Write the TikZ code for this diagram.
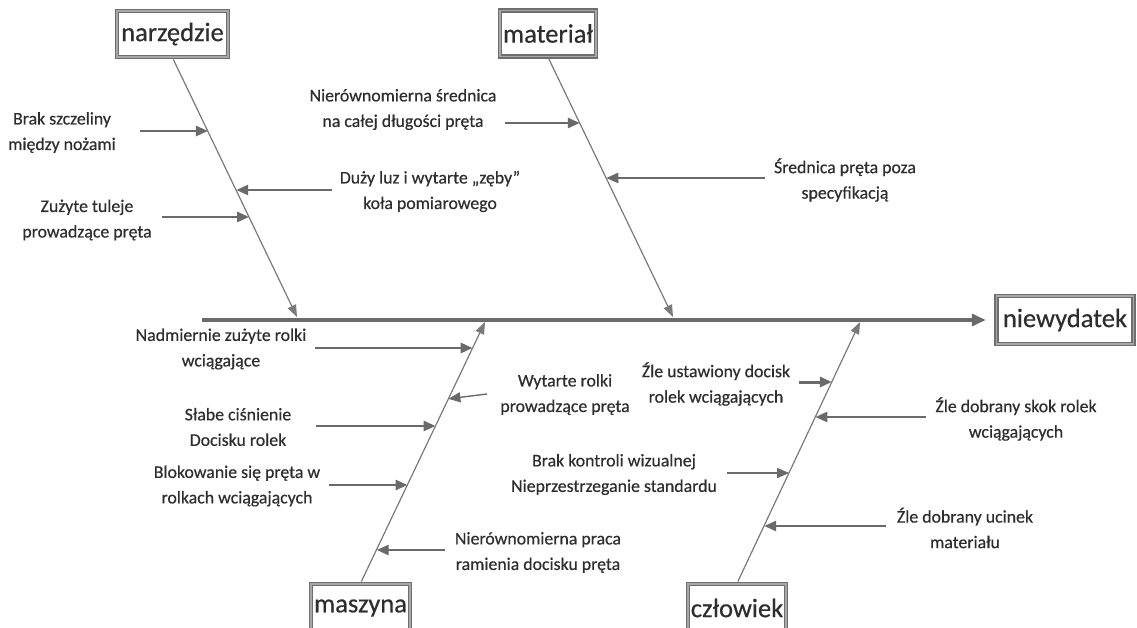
\documentclass[tikz,border=0pt]{standalone}
\usepackage{fontspec}
\setmainfont{Carlito}
\newfontfamily\lblfont{Carlito}[FakeBold=0.5]
\usetikzlibrary{arrows.meta,calc}
\definecolor{ln}{HTML}{7A7A7A}
\definecolor{lnd}{HTML}{6A6A6A}
\definecolor{txt}{HTML}{2E2E2E}
\definecolor{boxd}{HTML}{6E6E6E}
\definecolor{boxl}{HTML}{A8A8A8}
\begin{document}
\begin{tikzpicture}[x=1pt,y=-1pt,
  lbl/.style={font=\lblfont\fontsize{17.8}{25.5}\selectfont, text=txt, align=center, inner sep=0pt},
  catbox/.style={draw=boxd, line width=1.4pt, double=boxl, double distance=1.6pt,
    fill=white, minimum width=#1, minimum height=46pt, inner sep=0pt,
    font=\lblfont\fontsize{26.5}{30}\selectfont, text=txt},
  bonearr/.style={draw=ln, line width=1.2pt, -{Triangle[length=12pt,width=9pt]}},
  carr/.style={draw=lnd, line width=2.6pt, -{Triangle[length=12pt,width=10pt]}},
  tharr/.style={draw=lnd, line width=1.4pt, -{Triangle[length=12pt,width=10pt]}},
  spinearr/.style={draw=lnd, line width=3.5pt, -{Triangle[length=14pt,width=12pt]}}
]
\clip (0,0) rectangle (1137,628);

% category boxes
\node[catbox=111] (narz) at (172.5,34) {narzędzie};
\node[catbox=96]  (mat)  at (548,33.5) {materiał};
\node[catbox=99, minimum height=48pt] (masz) at (360.5,608) {maszyna};
\node[catbox=98, minimum height=48pt] (czl)  at (737,608) {człowiek};
\node[catbox=137, minimum height=48pt] (niew) at (1065,320) {niewydatek};

% spine
\coordinate (sp) at (202,320);
\draw[spinearr, shorten >=10pt] (sp) -- (niew.west);

% bone tips on spine
\coordinate (tN) at (297,317);
\coordinate (tM) at (673,317);
\coordinate (tA) at (485,322);
\coordinate (tC) at (860,322);

\draw[bonearr, shorten <=2pt] (narz.south) -- (tN);
\draw[bonearr, shorten <=2pt] (mat.south) -- (tM);
\draw[bonearr, shorten <=2pt] (masz.north) -- (tA);
\draw[bonearr, shorten <=2pt] (czl.north) -- (tC);

% points on bones
\path (narz.south) -- (tN) coordinate[pos=0.285] (n1) coordinate[pos=0.512] (n2) coordinate[pos=0.615] (n3);
\path (mat.south) -- (tM) coordinate[pos=0.255] (m1) coordinate[pos=0.466] (m2);
\path (masz.north) -- (tA) coordinate[pos=0.901] (a1) coordinate[pos=0.706] (a2)
  coordinate[pos=0.603] (a3) coordinate[pos=0.378] (a4) coordinate[pos=0.130] (a5);
\path (czl.north) -- (tC) coordinate[pos=0.771] (c1) coordinate[pos=0.637] (c2)
  coordinate[pos=0.424] (c3) coordinate[pos=0.221] (c4);

% free ends of cause arrows
\coordinate (sn1) at (140,131);
\coordinate (sn2) at (332,190);
\coordinate (sn3) at (162,217);
\coordinate (sm1) at (505,123);
\coordinate (sm2) at (765,178);
\coordinate (sa1) at (315,348);
\coordinate (sa2) at (487,394);
\coordinate (sa3) at (316,426);
\coordinate (sa4) at (329,485);
\coordinate (sa5) at (445,550);
\coordinate (sc1) at (799,382);
\coordinate (sc2) at (926,417);
\coordinate (sc3) at (727,473);
\coordinate (sc4) at (886,526);

% cause arrows
\draw[carr] (sn1) -- (sn1 -| n1);
\draw[carr] (sn2) -- (sn2 -| n2);
\draw[carr] (sn3) -- (sn3 -| n3);
\draw[carr] (sm1) -- (sm1 -| m1);
\draw[carr] (sm2) -- (sm2 -| m2);
\draw[carr] (sa1) -- (sa1 -| a1);
\draw[tharr] (sa2) -- (a2);
\draw[carr] (sa3) -- (sa3 -| a3);
\draw[carr] (sa4) -- (sa4 -| a4);
\draw[carr] (sa5) -- (sa5 -| a5);
\draw[carr, line width=3pt] (sc1) -- (sc1 -| c1);
\draw[carr] (sc2) -- (sc2 -| c2);
\draw[tharr, line width=1.2pt] (sc3) -- (sc3 -| c3);
\draw[carr] (sc4) -- (sc4 -| c4);

% labels
\node[lbl] (ln1) at (62,132.5) {Brak szczeliny\\między nożami};
\node[lbl] (ln2) at (430,191.5) {Duży luz i wytarte „zęby”\\koła pomiarowego};
\node[lbl] (ln3) at (87,220) {Zużyte tuleje\\prowadzące pręta};
\node[lbl] (lm1) at (403,109.5) {Nierównomierna średnica\\na całej długości pręta};
\node[lbl] (lm2) at (845,180) {Średnica pręta poza\\specyfikacją};
\node[lbl] (la1) at (221,349) {Nadmiernie zużyte rolki\\wciągające};
\node[lbl] (la2) at (565,394.5) {Wytarte rolki\\prowadzące pręta};
\node[lbl] (la3) at (238,427) {Słabe ciśnienie\\Docisku rolek};
\node[lbl] (la4) at (237,486) {Blokowanie się pręta w\\rolkach wciągających};
\node[lbl] (la5) at (538,552.5) {Nierównomierna praca\\ramienia docisku pręta};
\node[lbl] (lc1) at (716,384) {Źle ustawiony docisk\\rolek wciągających};
\node[lbl] (lc2) at (1016,419) {Źle dobrany skok rolek\\wciągających};
\node[lbl] (lc3) at (614,474.5) {Brak kontroli wizualnej\\Nieprzestrzeganie standardu};
\node[lbl] (lc4) at (965,528) {Źle dobrany ucinek\\materiału};
\end{tikzpicture}
\end{document}
